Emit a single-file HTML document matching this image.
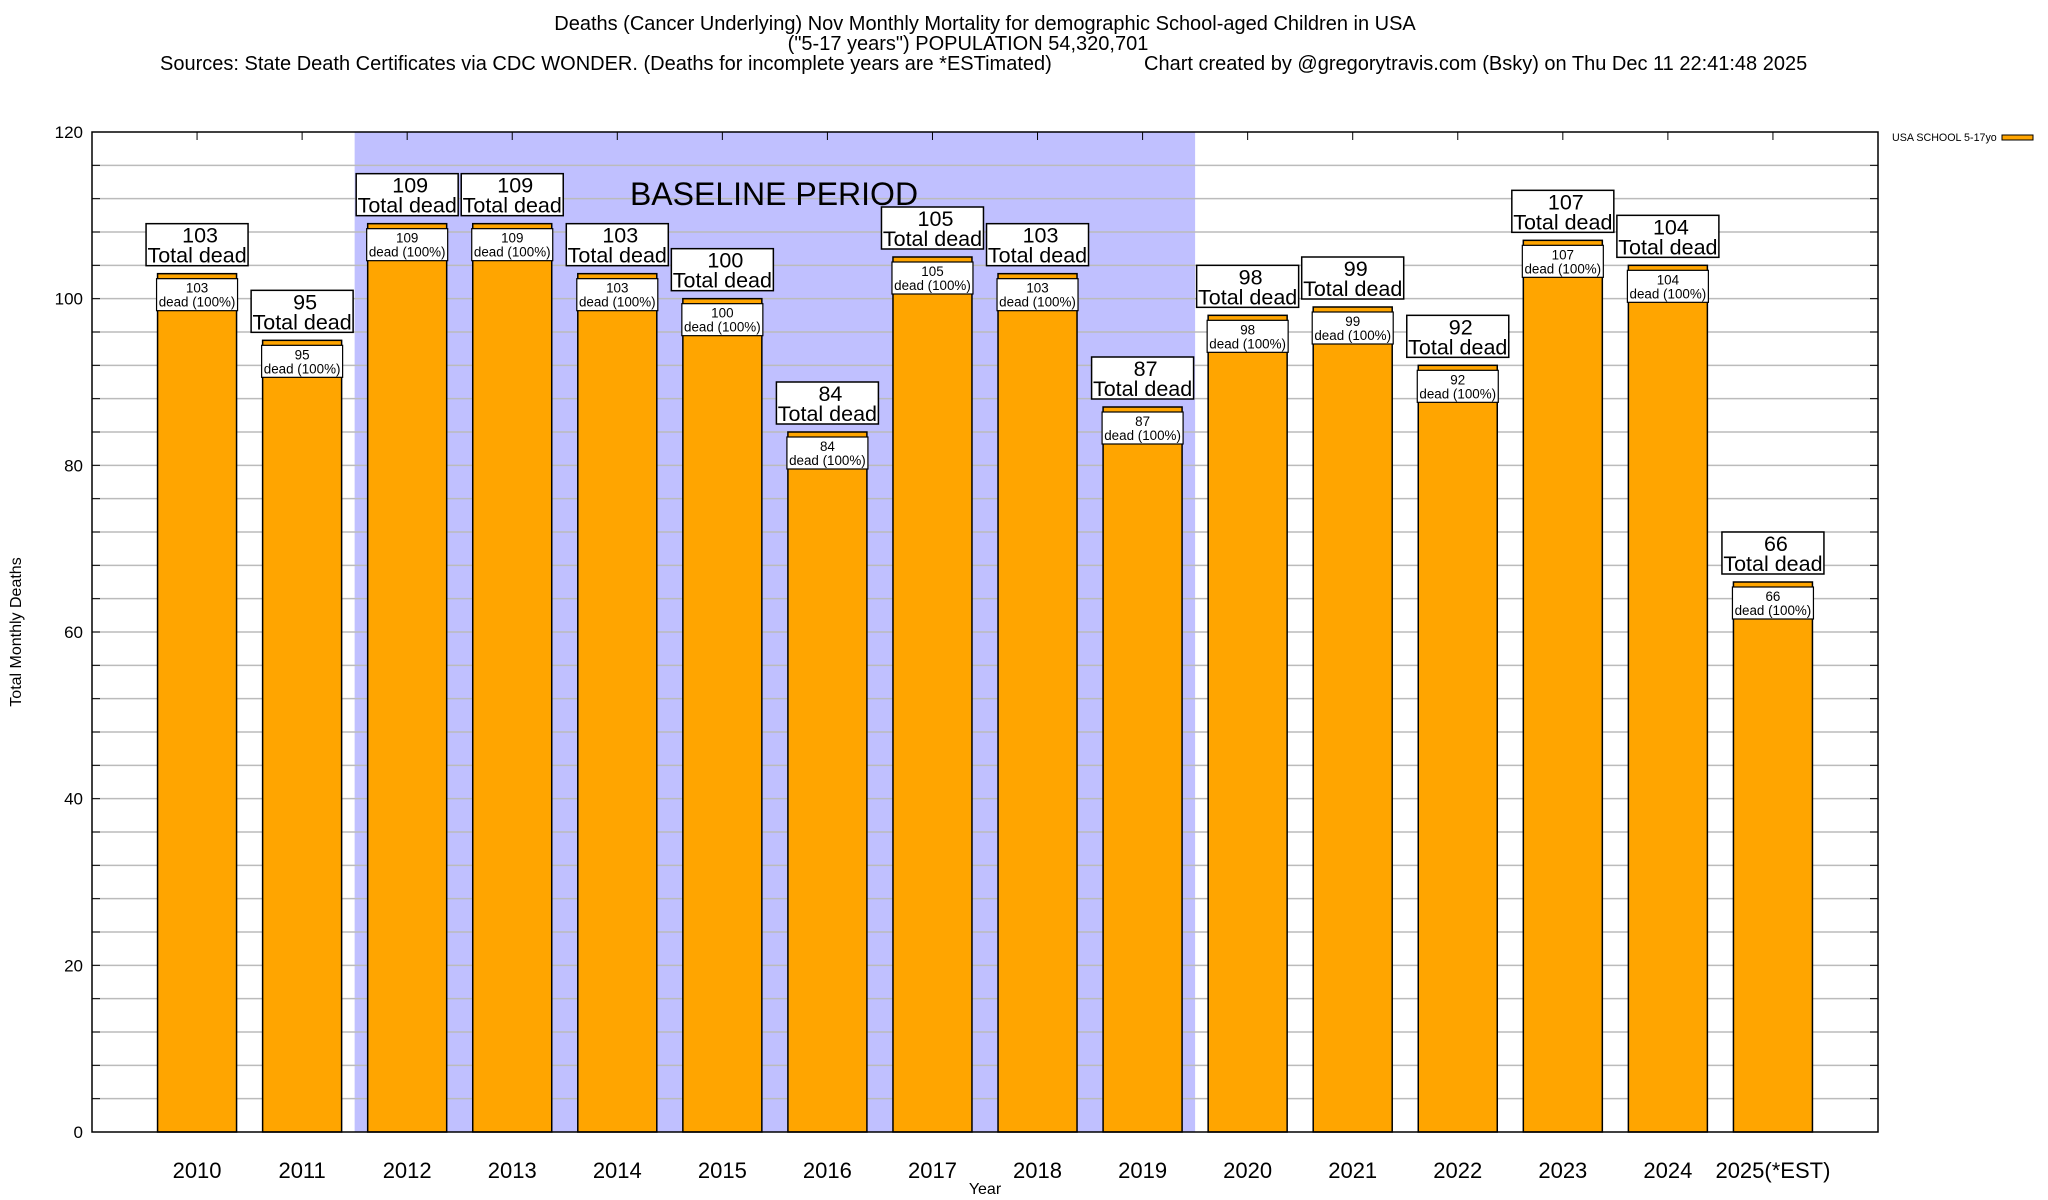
<!DOCTYPE html>
<html><head><meta charset="utf-8"><style>
html,body{margin:0;padding:0;background:#fff}
svg{display:block;font-family:"Liberation Sans",sans-serif}
</style></head><body>
<svg id="chart" width="2048" height="1200" viewBox="0 0 2048 1200">
<g font-size="20" text-anchor="middle" fill="#000">
<text x="985" y="30">Deaths (Cancer Underlying) Nov Monthly Mortality for demographic School-aged Children in USA</text>
<text x="968" y="50">("5-17 years") POPULATION 54,320,701</text>
<text x="160" y="70" text-anchor="start">Sources: State Death Certificates via CDC WONDER. (Deaths for incomplete years are *ESTimated)</text>
<text x="1144" y="70" text-anchor="start">Chart created by @gregorytravis.com (Bsky) on Thu Dec 11 22:41:48 2025</text>
</g>
<g id="plot"></g>
<text x="985" y="1194" font-size="16" text-anchor="middle">Year</text>
<text transform="translate(21,632) rotate(-90)" font-size="16" text-anchor="middle">Total Monthly Deaths</text>
<g>
<text x="1892" y="141" font-size="10.7">USA SCHOOL 5-17yo</text>
<rect x="2002" y="135" width="31" height="5" fill="#ffa500" stroke="#000" stroke-width="1"/>
</g>
</svg>
<script>
const categories = ["2010","2011","2012","2013","2014","2015","2016","2017","2018","2019","2020","2021","2022","2023","2024","2025(*EST)"];
const values = [103,95,109,109,103,100,84,105,103,87,98,99,92,107,104,66];
const yTicks = [0,20,40,60,80,100,120];
const baselineStart = "2012";
const baselineEnd = "2019";

const NS = "http://www.w3.org/2000/svg";
const L = 92, R = 1878, T = 132, B = 1132;
const yMax = 120;
const slot = (R - L) / (categories.length + 1);
function xPos(i){ return L + slot * (i + 1); }
function yPos(v){ return B - (v / yMax) * (B - T); }
const plot = document.getElementById('plot');
function mk(tag, attrs, parent){
  const e = document.createElementNS(NS, tag);
  for (const k in attrs) e.setAttribute(k, attrs[k]);
  (parent || plot).appendChild(e);
  return e;
}
const bs = categories.indexOf(baselineStart), be = categories.indexOf(baselineEnd);
const shade = mk('rect', {x: xPos(bs) - slot/2, y: T, width: (be - bs + 1) * slot, height: B - T, fill: '#c0c0ff'});


for (let v = 4; v < yMax; v += 4) {
  const g = mk('line', {x1: L, x2: R, y1: yPos(v), y2: yPos(v), stroke: '#bbb', 'stroke-width': 1.5});
  
  
  mk('line', {x1: L, x2: L + 8, y1: yPos(v), y2: yPos(v), stroke: '#000', 'stroke-width': 1});
  mk('line', {x1: R - 8, x2: R, y1: yPos(v), y2: yPos(v), stroke: '#000', 'stroke-width': 1});
}
const bt = mk('text', {x: 774, y: 205, 'font-size': 32, 'text-anchor': 'middle'});
bt.textContent = 'BASELINE PERIOD';


yTicks.forEach(v => {
  const t = mk('text', {x: 83, y: yPos(v) + 6, 'font-size': 17, 'text-anchor': 'end'});
  t.textContent = v;
  
  
});
const bw = 79;
categories.forEach((c, i) => {
  const cx = xPos(i), v = values[i], yt = yPos(v);
  mk('line', {x1: cx, x2: cx, y1: T, y2: T + 8, stroke: '#000', 'stroke-width': 1});
  const bar = mk('rect', {x: cx - bw/2, y: yt, width: bw, height: B - yt, fill: '#ffa500', stroke: '#000', 'stroke-width': 1.5});
  
  
  const ib = mk('rect', {x: cx - 40.5, y: yt + 5, width: 81, height: 32, fill: '#fff', stroke: '#000', 'stroke-width': 1.2});
  
  
  const it1 = mk('text', {x: cx, y: yt + 19, 'font-size': 13.4, 'text-anchor': 'middle'});
  it1.textContent = v;
  
  
  const it2 = mk('text', {x: cx, y: yt + 33, 'font-size': 13.4, 'text-anchor': 'middle'});
  it2.textContent = 'dead (100%)';
  
  
  const ob = mk('rect', {x: cx - 51, y: yt - 50, width: 102, height: 42, fill: '#fff', stroke: '#000', 'stroke-width': 1.5});
  
  
  const ot1 = mk('text', {x: cx + 3, y: yt - 31, 'font-size': 21.5, 'text-anchor': 'middle'});
  ot1.textContent = v;
  
  
  const ot2 = mk('text', {x: cx, y: yt - 11, 'font-size': 21.5, 'text-anchor': 'middle'});
  ot2.textContent = 'Total dead';
  
  
  const xl = mk('text', {x: cx, y: 1178, 'font-size': 22, 'text-anchor': 'middle'});
  xl.textContent = c;
  
  
});
const frame = mk('rect', {x: L, y: T, width: R - L, height: B - T, fill: 'none', stroke: '#000', 'stroke-width': 1.5});


</script>
</body></html>
